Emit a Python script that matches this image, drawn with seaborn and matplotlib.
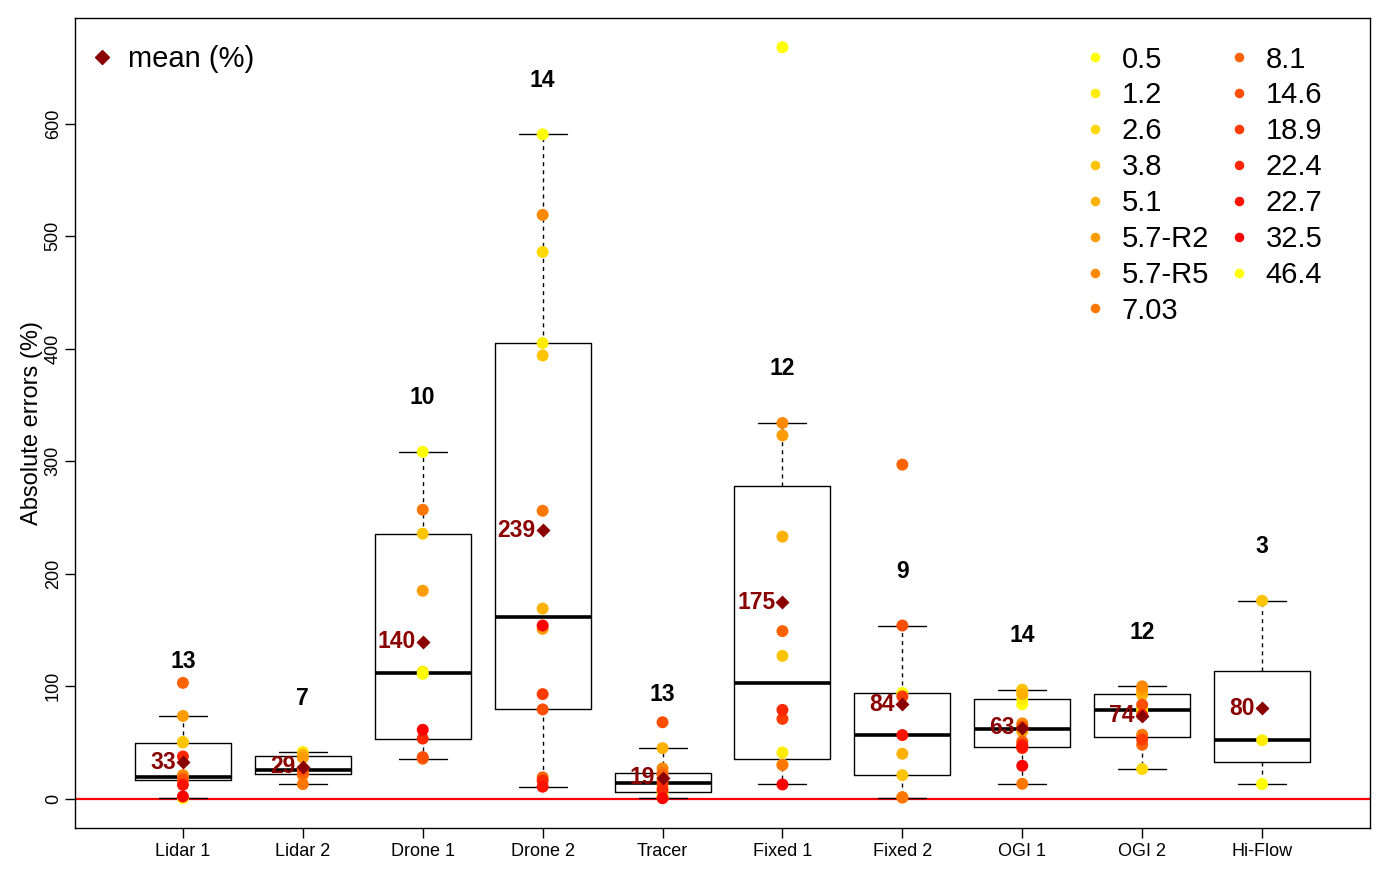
import numpy as np
import pandas as pd
import matplotlib
matplotlib.use("Agg")
import matplotlib.pyplot as plt
import seaborn as sns
from matplotlib.lines import Line2D

sns.set_style("white", rc={"text.color": "black", "axes.labelcolor": "black",
                           "xtick.color": "black", "ytick.color": "black",
                           "axes.edgecolor": "black"})
plt.rcParams["font.family"] = ["Liberation Sans", "DejaVu Sans"]

# categories
methods = ["Lidar 1", "Lidar 2", "Drone 1", "Drone 2", "Tracer",
           "Fixed 1", "Fixed 2", "OGI 1", "OGI 2", "Hi-Flow"]
rates = ["0.5", "1.2", "2.6", "3.8", "5.1", "5.7-R2", "5.7-R5", "7.03",
         "8.1", "14.6", "18.9", "22.4", "22.7", "32.5", "46.4"]

# absolute errors (%) per method, with the release rate of each point
lidar1_rate = ["0.5", "1.2", "2.6", "3.8", "5.1", "5.7-R2", "5.7-R5", "7.03", "8.1", "14.6", "22.4", "22.7", "32.5"]
lidar1_err = [0.5, 17.5, 50.5, 50, 19.6, 73.6, 21, 18.5, 103, 17, 37.6, 12.4, 2]

lidar2_rate = ["1.2", "5.1", "5.7-R2", "5.7-R5", "7.03", "8.1", "14.6"]
lidar2_err = [41.5, 39, 36.5, 21, 13, 23, 26]

drone1_rate = ["0.5", "1.2", "3.8", "5.7-R2", "7.03", "8.1", "14.6", "22.4", "32.5", "46.4"]
drone1_err = [308.4, 113, 235.6, 184.9, 256.9, 35.6, 37, 53.5, 61.3, 111]

drone2_rate = ["0.5", "1.2", "2.6", "3.8", "5.1", "5.7-R2", "5.7-R5", "7.03", "8.1", "14.6", "18.9", "22.4", "22.7", "32.5"]
drone2_err = [590.6, 405, 486, 394, 169, 151, 519, 256, 19, 79.4, 93, 16, 10.7, 154]

tracer_rate = ["0.5", "1.2", "2.6", "3.8", "5.1", "5.7-R2", "5.7-R5", "7.03", "8.1", "14.6", "18.9", "22.4", "32.5"]
tracer_err = [1, 2.5, 6, 11, 45, 17, 27, 23, 21, 68, 14, 8, 0.5]

fixed1_rate = ["0.5", "1.2", "2.6", "3.8", "5.1", "5.7-R2", "5.7-R5", "7.03", "8.1", "18.9", "22.4", "32.5"]
fixed1_err = [668, 41.1, 30.4, 127, 233, 323, 334, 30, 149, 71, 79, 12.7]

fixed2_rate = ["0.5", "3.8", "5.1", "5.7-R5", "7.03", "8.1", "14.6", "18.9", "22.7"]
fixed2_err = [94, 21, 40, 1.5, 1, 297, 154, 91, 56.6]

ogi1_rate = ["0.5", "1.2", "2.6", "3.8", "5.1", "5.7-R2", "5.7-R5", "7.03", "8.1", "14.6", "18.9", "22.4", "22.7", "32.5"]
ogi1_err = [84, 88.5, 95, 97, 93, 60, 67, 13.3, 51, 64, 45, 48, 46, 29.3]

ogi2_rate = ["0.5", "1.2", "2.6", "3.8", "5.1", "5.7-R2", "5.7-R5", "7.03", "8.1", "14.6", "18.9", "22.4"]
ogi2_err = [77.6, 80.6, 26.4, 92.4, 93.6, 97, 99.9, 56.9, 48, 83.6, 52.7, 74.5]

hiflow_rate = ["0.5", "1.2", "3.8"]
hiflow_err = [13, 52, 176]

groups = [(lidar1_err, lidar1_rate), (lidar2_err, lidar2_rate), (drone1_err, drone1_rate),
          (drone2_err, drone2_rate), (tracer_err, tracer_rate), (fixed1_err, fixed1_rate),
          (fixed2_err, fixed2_rate), (ogi1_err, ogi1_rate), (ogi2_err, ogi2_rate),
          (hiflow_err, hiflow_rate)]

df = pd.concat([pd.DataFrame({"method": m, "error": e, "rate": r})
                for m, (e, r) in zip(methods, groups)], ignore_index=True)

# yellow -> red ramp for the 14 rates, recycled for the last one
colors = sns.blend_palette(["#FFFF00", "#FF0000"], 14) + ["#FFFF00"]
mean_col = "#8B0000"


def r_box_stats(x):
    # Tukey hinges like R's boxplot()
    x = np.sort(np.asarray(x, dtype=float))
    n = len(x)
    n4 = np.floor((n + 3) / 2) / 2
    d = np.array([1, n4, (n + 1) / 2, n + 1 - n4, n]) - 1
    five = 0.5 * (x[np.floor(d).astype(int)] + x[np.ceil(d).astype(int)])
    q1, med, q3 = five[1:4]
    iqr = q3 - q1
    return dict(med=med, q1=q1, q3=q3,
                whislo=x[x >= q1 - 1.5 * iqr].min(),
                whishi=x[x <= q3 + 1.5 * iqr].max(), fliers=[])


fig = plt.figure(figsize=(13.89, 8.74), dpi=100)
ax = fig.add_axes([75 / 1389, 1 - 828 / 874, 1295 / 1389, 810 / 874])

stats = [r_box_stats(df.loc[df.method == m, "error"]) for m in methods]
ax.bxp(stats, positions=range(len(methods)), widths=0.8, capwidths=0.4,
       showfliers=False, manage_ticks=False, zorder=1.5,
       boxprops=dict(color="black", lw=1),
       whiskerprops=dict(color="black", lw=1, linestyle=(0, (2.9, 2.9))),
       capprops=dict(color="black", lw=1),
       medianprops=dict(color="black", lw=2.6))

ax.axhline(0, color="red", lw=1.6, zorder=1)

sns.stripplot(data=df, x="method", y="error", hue="rate", order=methods,
              hue_order=rates, palette=colors, jitter=False, size=8.6,
              linewidth=0, ax=ax, zorder=3)

sns.pointplot(data=df, x="method", y="error", order=methods, estimator="mean",
              errorbar=None, color=mean_col, marker="D", markersize=4.8,
              linestyle="none", ax=ax, zorder=4)

for i, m in enumerate(methods):
    vals = df.loc[df.method == m, "error"]
    ax.text(i, stats[i]["whishi"] + 48, str(len(vals)), ha="center", va="center",
            fontsize=16.5, fontweight="bold", color="black")
    mu = vals.mean()
    ax.text(i - 0.06, mu, f"{mu:.0f}", ha="right", va="center", fontsize=16.5,
            fontweight="bold", color=mean_col, zorder=5)

handles, labels = ax.get_legend_handles_labels()
if ax.get_legend() is not None:
    ax.get_legend().remove()
leg = ax.legend(handles, labels, ncol=2, loc="upper left",
                bbox_to_anchor=(0.781, 0.966), frameon=False, fontsize=21,
                markerscale=0.8, handlelength=0.6, handletextpad=0.6,
                columnspacing=0.75, labelspacing=0.27, borderaxespad=0, borderpad=0)
ax.add_artist(leg)
mean_handle = Line2D([], [], marker="D", color=mean_col, linestyle="none", markersize=7.5)
ax.legend([mean_handle], ["mean (%)"], loc="upper left", bbox_to_anchor=(0.0139, 0.967),
          frameon=False, fontsize=21, handlelength=0.6, handletextpad=0.6,
          borderaxespad=0, borderpad=0)

ax.set_xlim(-0.9, 9.9)
ax.set_ylim(-26, 694)
ax.set_xticks(range(len(methods)))
ax.set_xticklabels(methods)
ax.set_yticks(range(0, 700, 100))
ax.set_xlabel("")
ax.set_ylabel("Absolute errors (%)", fontsize=17)
ax.yaxis.set_label_coords(-0.0335, 0.5)
ax.yaxis.label.set_va("center")
ax.tick_params(direction="out", length=7, width=1, labelsize=13, left=True, bottom=True)
ax.tick_params(axis="y", pad=2.5)
ax.tick_params(axis="x", pad=4)
for t in ax.get_yticklabels():
    t.set_rotation(90)
    t.set_va("center")
for s in ax.spines.values():
    s.set_visible(True)
    s.set_color("black")
    s.set_linewidth(1)

fig.savefig("out.png", dpi=100)
